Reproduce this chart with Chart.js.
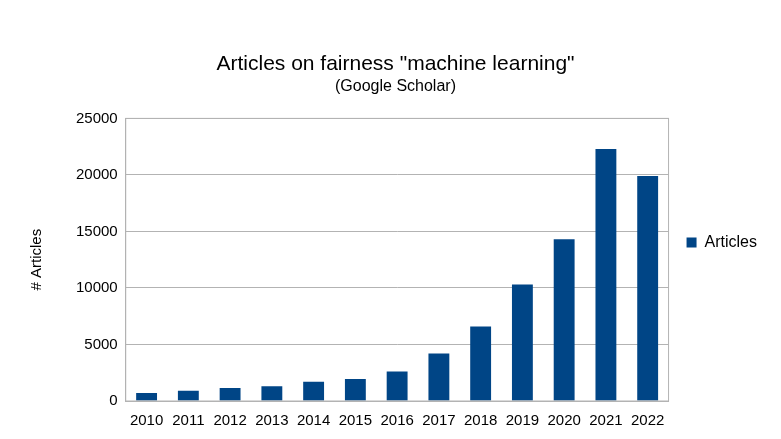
<!DOCTYPE html>
<html lang="en">
<head>
  <meta charset="UTF-8">
  <title>Articles on fairness "machine learning"</title>
  <script src="https://cdn.jsdelivr.net/npm/chart.js"></script>
  <style>
    body { margin: 0; background: #ffffff; }
    .chart-container { position: relative; width: 781px; height: 439px; }
  </style>
</head>
<body>
  <div class="chart-container">
    <canvas id="articlesChart"></canvas>
  </div>
  <script>
    const years = ['2010', '2011', '2012', '2013', '2014', '2015', '2016', '2017', '2018', '2019', '2020', '2021', '2022'];
    const articles = [700, 900, 1150, 1300, 1700, 1950, 2600, 4200, 6600, 10300, 14300, 22300, 19900];

    Chart.defaults.font.family = '"Liberation Sans", Arial, sans-serif';
    Chart.defaults.color = '#000000';

    // frame around the plot area
    const framePlugin = {
      id: 'plotFrame',
      afterDraw: (chart) => {
        const { ctx, chartArea } = chart;
        ctx.save();
        ctx.strokeStyle = '#b3b3b3';
        ctx.lineWidth = 1;
        ctx.strokeRect(chartArea.left, chartArea.top, chartArea.width, chartArea.height);
        ctx.restore();
      },
    };

    new Chart(document.getElementById('articlesChart'), {
      type: 'bar',
      data: {
        labels: years,
        datasets: [{
          label: 'Articles',
          data: articles,
          backgroundColor: '#004586',
          barPercentage: 0.5,
          categoryPercentage: 1.0,
        }]
      },
      options: {
        responsive: true,
        maintainAspectRatio: false,
        animation: false,
        layout: { padding: { left: 24, right: 14, top: 52, bottom: 6 } },
        plugins: {
          title: {
            display: true,
            text: 'Articles on fairness "machine learning"',
            font: { size: 21, weight: 'normal' },
            padding: { top: 0, bottom: 0 },
          },
          subtitle: {
            display: true,
            text: '(Google Scholar)',
            font: { size: 16 },
            padding: { top: 0, bottom: 22 },
          },
          legend: {
            position: 'right',
            labels: { boxWidth: 10, boxHeight: 10, font: { size: 16 }, padding: 18 },
          },
          tooltip: { enabled: false },
        },
        scales: {
          x: {
            grid: { display: false },
            border: { color: '#b3b3b3' },
            ticks: { font: { size: 15 }, maxRotation: 0 },
          },
          y: {
            min: 0,
            max: 25000,
            ticks: { stepSize: 5000, font: { size: 15 }, padding: 8, callback: (v) => String(v) },
            grid: { color: '#b3b3b3', drawTicks: false },
            border: { color: '#b3b3b3' },
            title: { display: true, text: '# Articles', font: { size: 15 }, padding: { bottom: 22 } },
          },
        },
      },
      plugins: [framePlugin],
    });
  </script>
</body>
</html>
